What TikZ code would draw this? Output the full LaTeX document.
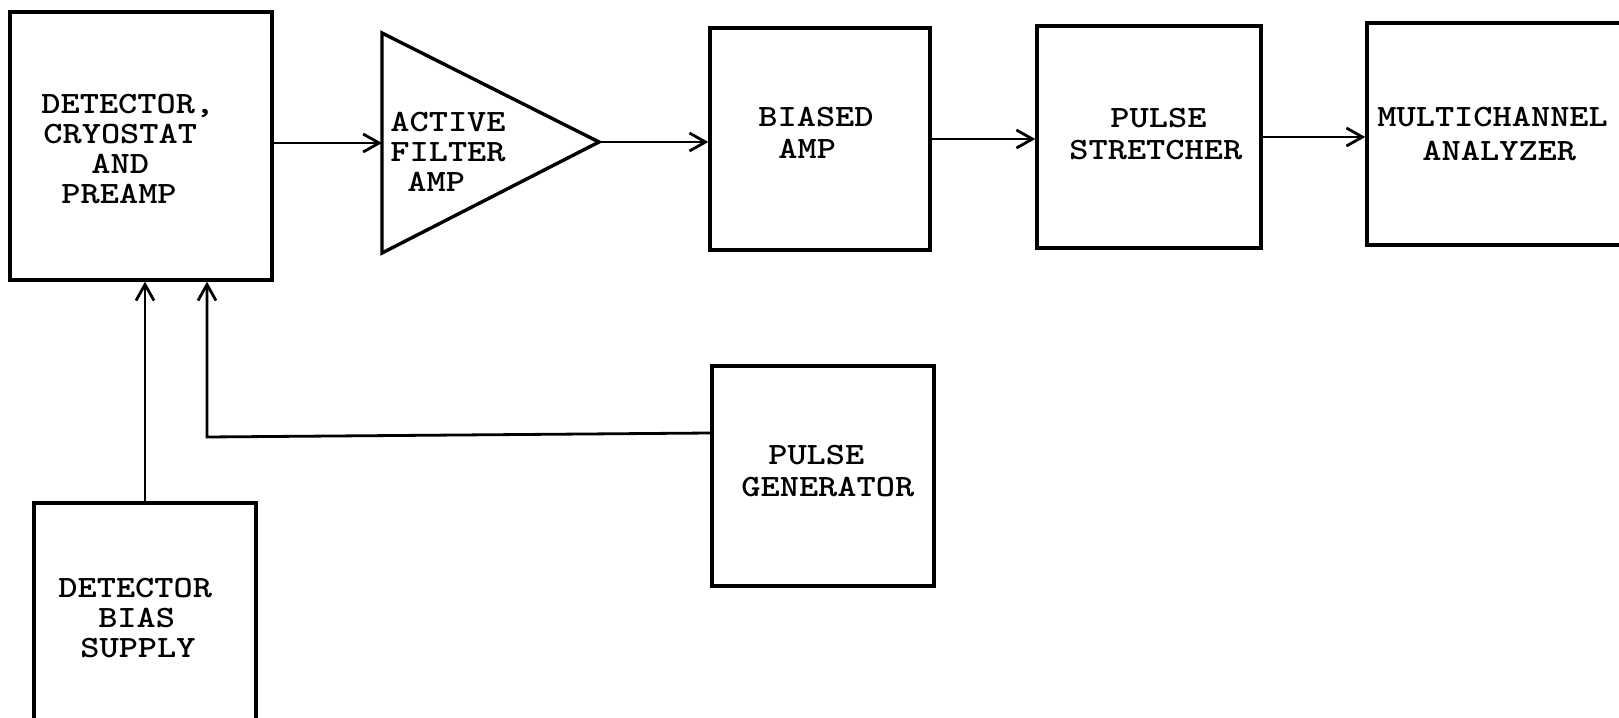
\documentclass[tikz,border=0pt]{standalone}
\usepackage{graphicx}
\usetikzlibrary{arrows.meta,fit}
\newcommand{\lbl}[2]{\scalebox{1.18}[1]{\fontsize{15.5}{#1}\selectfont\ttfamily\bfseries\begin{tabular}{@{}l@{}}#2\end{tabular}}}
\begin{document}
\begin{tikzpicture}[x=0.5pt,y=-0.5pt,
  blk/.style={draw, line width=1.7pt, inner sep=0pt},
  conn/.style={line width=1.4pt, -{Straight Barb[length=8pt,width=9pt,line width=1.4pt]}},
  txt/.style={inner sep=0pt, anchor=west}]
\useasboundingbox (0,0) rectangle (1619,718);
\fill[white] (0,0) rectangle (1619,718);
\clip (0,0) rectangle (1619,718);
% boxes
\node[blk, fit={(10,12) (272,280)}] (det) {};
\node[blk, fit={(710,28) (930,250)}] (biased) {};
\node[blk, fit={(1037,26) (1261,248)}] (stretch) {};
\node[blk, fit={(1367,23) (1632,245)}] (mca) {};
\node[blk, fit={(712,366) (934,586)}] (gen) {};
\node[blk, fit={(34,503) (256,745)}] (bias) {};
% amplifier triangle
\draw[line width=1.7pt, line join=miter] (382,33) -- (599,142) -- (382,253) -- cycle;
\coordinate (ampin) at (382,143);
\coordinate (ampout) at (599,142);
% labels
\node[txt] (dett) at (41,152) {\lbl{15}{DETECTOR,\\\hspace*{0.85pt}CRYOSTAT\\\hspace*{21.2pt}AND\\\hspace*{8.5pt}PREAMP}};
\node[txt] (ampt) at (390,155) {\lbl{15}{ACTIVE\\FILTER\\\hspace*{7.2pt}AMP}};
\node[txt] (biasedt) at (758,136) {\lbl{16}{BIASED\\\hspace*{8.5pt}AMP}};
\node[txt] (stretcht) at (1069,137) {\lbl{16}{\hspace*{17.4pt}PULSE\\STRETCHER}};
\node[txt] (mcat) at (1377,137) {\lbl{17}{MULTICHANNEL\\\hspace*{19.1pt}ANALYZER}};
\node[txt] (gent) at (741,474) {\lbl{16}{\hspace*{11.4pt}PULSE\\GENERATOR}};
\node[txt] (biast) at (58,621) {\lbl{15}{DETECTOR\\\hspace*{16.9pt}BIAS\\\hspace*{9.3pt}SUPPLY}};
% connectors
\draw[conn] (det.east |- ampin) -- (ampin);
\draw[conn] (ampout) -- (biased.west |- ampout);
\draw[conn] (biased.east) -- (stretch.west |- biased.east);
\draw[conn] (stretch.east) -- (mca.west |- stretch.east);
\draw[conn] (bias.north) -- (det.south -| bias.north);
\coordinate (corner) at (207,437);
\draw[conn] (gen.west |- 0,433) -- (corner) -- (corner |- det.south);
\end{tikzpicture}
\end{document}
